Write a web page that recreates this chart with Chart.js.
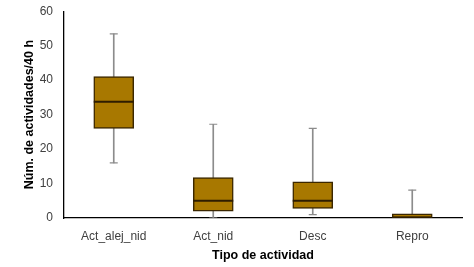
<!DOCTYPE html>
<html>
<head>
<meta charset="utf-8">
<script src="https://cdn.jsdelivr.net/npm/chart.js@4"></script>
<style>
  html, body { margin: 0; padding: 0; background: #fff; }
  #wrap { width: 474px; height: 267px; }
</style>
</head>
<body>
<div id="wrap"><canvas id="chart"></canvas></div>
<script>
// box plot values
const categories = ['Act_alej_nid', 'Act_nid', 'Desc', 'Repro'];
const minimo  = [16, 0, 1, 0];
const q1      = [26, 2, 2.8, 0];
const mediana = [33.7, 5, 5, 0];
const q3      = [41, 11.7, 10.5, 1.2];
const maximo  = [53.4, 27.2, 26, 8.1];

const yTicks = [0, 10, 20, 30, 40, 50, 60];

const boxFill = '#a87800';
const boxLine = '#3b2700';
const whiskerColor = '#8c8c8c';
const font = "'Liberation Sans', Arial, sans-serif";

const cajas = categories.map((c, i) => [q1[i], q3[i]]);
const bigoteBajo = categories.map((c, i) => [minimo[i], q1[i]]);
const bigoteAlto = categories.map((c, i) => [q3[i], maximo[i]]);

new Chart(document.getElementById('chart'), {
    data: {
        labels: categories,
        datasets: [
            {
                type: 'line',
                data: mediana,
                showLine: false,
                pointStyle: 'line',
                pointRadius: 20,
                pointBorderWidth: 2,
                pointBorderColor: '#2e1d00',
                order: 0
            },
            {
                type: 'bar',
                data: cajas,
                backgroundColor: boxFill,
                borderColor: boxLine,
                borderWidth: 1.5,
                borderSkipped: false,
                barThickness: 40,
                grouped: false,
                order: 1
            },
            {
                type: 'bar',
                data: bigoteBajo,
                backgroundColor: whiskerColor,
                barThickness: 1,
                grouped: false,
                order: 2
            },
            {
                type: 'bar',
                data: bigoteAlto,
                backgroundColor: whiskerColor,
                barThickness: 1,
                grouped: false,
                order: 2
            },
            {
                type: 'line',
                data: minimo,
                showLine: false,
                pointStyle: 'line',
                pointRadius: 4,
                pointBorderWidth: 1.2,
                pointBorderColor: whiskerColor,
                order: 3
            },
            {
                type: 'line',
                data: maximo,
                showLine: false,
                pointStyle: 'line',
                pointRadius: 4,
                pointBorderWidth: 1.2,
                pointBorderColor: whiskerColor,
                order: 3
            }
        ]
    },
    options: {
        responsive: true,
        maintainAspectRatio: false,
        animation: false,
        layout: { autoPadding: false, padding: { left: 18, right: 12, top: 4, bottom: 0 } },
        plugins: {
            legend: { display: false },
            tooltip: { enabled: false }
        },
        scales: {
            x: {
                type: 'category',
                grid: { display: false, drawTicks: false },
                border: { color: '#000', width: 1.3 },
                ticks: { color: '#404040', font: { family: font, size: 12 }, padding: 11 },
                title: {
                    display: true,
                    text: 'Tipo de actividad',
                    color: '#000',
                    font: { family: font, size: 12.5, weight: 'bold' },
                    padding: { top: 4 }
                },
                afterFit: (s) => { s.height = 49; }
            },
            y: {
                min: 0,
                max: 60,
                afterBuildTicks: (s) => { s.ticks = yTicks.map(v => ({ value: v })); },
                // invisible tick marks keep the label gap without growing the top padding
                grid: {
                    display: true,
                    drawOnChartArea: false,
                    drawTicks: true,
                    tickLength: 7,
                    color: 'rgba(0,0,0,0)',
                    tickColor: 'rgba(0,0,0,0)'
                },
                border: { color: '#000', width: 1.3 },
                ticks: { color: '#404040', font: { family: font, size: 12 }, padding: 4 },
                title: {
                    display: true,
                    text: 'Núm. de actividades/40 h',
                    color: '#000',
                    font: { family: font, size: 12.5, weight: 'bold' },
                    padding: { top: 4, bottom: 4 }
                },
                afterFit: (s) => { s.width = 46; }
            }
        }
    }
});
</script>
</body>
</html>
